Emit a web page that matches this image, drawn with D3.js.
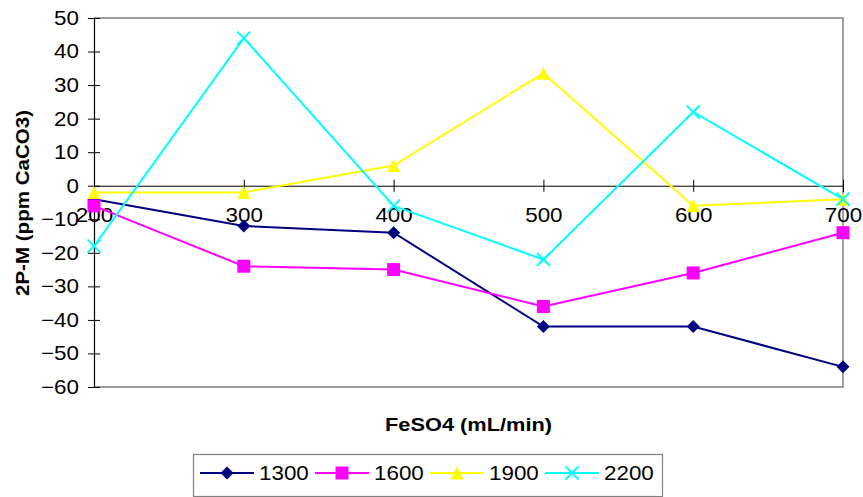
<!DOCTYPE html>
<html>
<head>
<meta charset="utf-8">
<script src="https://cdn.jsdelivr.net/npm/d3@7"></script>
<style>
  html, body { margin: 0; padding: 0; background: #fff; }
  svg { display: block; font-family: "Liberation Sans", Arial, sans-serif; }
</style>
</head>
<body>
<svg id="chart" width="863" height="497"></svg>
<script>
// FeSO4 flow rate (mL/min) on the x axis
const flows = [200, 300, 400, 500, 600, 700];
const seriesNames = ["1300", "1600", "1900", "2200"];
const values1300 = [-4, -12, -14, -42, -42, -54];
const values1600 = [-6, -24, -25, -36, -26, -14];
const values1900 = [-2, -2, 6, 33.5, -6, -4];
const values2200 = [-18, 44, -6, -22, 22, -4];
const yTicks = [50, 40, 30, 20, 10, 0, -10, -20, -30, -40, -50, -60];

const colors = ["#000080", "#ff00ff", "#ffff00", "#00ffff"];
const markers = ["diamond", "square", "triangle", "cross"];
const allValues = [values1300, values1600, values1900, values2200];

const svg = d3.select("#chart");
const plotLeft = 94, plotRight = 843, plotTop = 18, plotBottom = 387;
const labelFont = 20, stretch = 1.12;

const x = d3.scaleLinear().domain([200, 700]).range([plotLeft, plotRight]);
const y = d3.scaleLinear().domain([-60, 50]).range([plotBottom, plotTop]);

// plot frame (grey on top, right, bottom)
svg.append("path")
  .attr("d", `M${plotLeft},${plotTop}H${plotRight}V${plotBottom}H${plotLeft}`)
  .attr("fill", "none").attr("stroke", "#808080").attr("stroke-width", 1.5);

// y axis
const yAxis = d3.axisLeft(y).tickValues(yTicks).tickSize(6).tickFormat(d3.format("d"));
const gy = svg.append("g").attr("transform", `translate(${plotLeft},0)`).call(yAxis);
gy.select(".domain").attr("stroke", "#000").attr("stroke-width", 1.2);
gy.selectAll(".tick line").attr("x1", -6).attr("x2", 6).attr("stroke", "#000");
gy.selectAll(".tick text")
  .attr("x", -15 / stretch)
  .attr("transform", `scale(${stretch},1)`)
  .attr("font-size", labelFont).attr("fill", "#000")
  .attr("font-family", "Liberation Sans, Arial, sans-serif");

// x axis at y = 0
const xAxis = d3.axisBottom(x).tickValues(flows).tickSize(6).tickFormat(d3.format("d"));
const gx = svg.append("g").attr("transform", `translate(0,${y(0)})`).call(xAxis);
gx.select(".domain").attr("stroke", "#000").attr("stroke-width", 1);
gx.selectAll(".tick line").attr("y1", -6).attr("y2", 6).attr("stroke", "#000");
gx.selectAll(".tick text")
  .attr("y", 22)
  .attr("transform", `scale(${stretch},1)`)
  .attr("font-size", labelFont).attr("fill", "#000")
  .attr("font-family", "Liberation Sans, Arial, sans-serif");

function markerPath(type, s) {
  const h = s / 2;
  if (type === "diamond") return `M0,${-h}L${h},0L0,${h}L${-h},0Z`;
  if (type === "square") return `M${-h},${-h}H${h}V${h}H${-h}Z`;
  if (type === "triangle") return `M0,${-h}L${h},${h}H${-h}Z`;
  return `M${-h},${-h}L${h},${h}M${h},${-h}L${-h},${h}`;
}

function drawMarker(g, type, color, cx, cy) {
  const p = g.append("path").attr("transform", `translate(${cx},${cy})`)
    .attr("d", markerPath(type, 13));
  if (type === "cross") p.attr("fill", "none").attr("stroke", color).attr("stroke-width", 2);
  else p.attr("fill", color).attr("stroke", "none");
}

const line = d3.line().x((d, i) => x(flows[i])).y(d => y(d));
const plot = svg.append("g");
allValues.forEach((vals, si) => {
  plot.append("path").datum(vals).attr("d", line)
    .attr("fill", "none").attr("stroke", colors[si]).attr("stroke-width", 2);
});
allValues.forEach((vals, si) => {
  vals.forEach((v, i) => drawMarker(plot, markers[si], colors[si], x(flows[i]), y(v)));
});

// axis titles
svg.append("text").attr("transform", "translate(29,203) rotate(-90)")
  .attr("text-anchor", "middle").attr("font-weight", "bold").attr("font-size", 18)
  .attr("textLength", 186).attr("lengthAdjust", "spacingAndGlyphs")
  .text("2P-M (ppm CaCO3)");
svg.append("text").attr("x", 468.5).attr("y", 431)
  .attr("text-anchor", "middle").attr("font-weight", "bold").attr("font-size", 18)
  .attr("textLength", 167).attr("lengthAdjust", "spacingAndGlyphs")
  .text("FeSO4 (mL/min)");

// legend
const legend = svg.append("g");
legend.append("rect").attr("x", 193.5).attr("y", 454.5).attr("width", 469).attr("height", 42)
  .attr("fill", "#fff").attr("stroke", "#808080").attr("stroke-width", 1.2);
const legendX = [200, 315, 430, 545];
seriesNames.forEach((name, si) => {
  const lx = legendX[si], ly = 473;
  legend.append("line").attr("x1", lx).attr("x2", lx + 54).attr("y1", ly).attr("y2", ly)
    .attr("stroke", colors[si]).attr("stroke-width", 2);
  drawMarker(legend, markers[si], colors[si], lx + 27, ly);
  legend.append("text")
    .attr("transform", `translate(${lx + 59},${ly + 6.5}) scale(${stretch},1)`)
    .attr("font-size", labelFont).text(name);
});
</script>
</body>
</html>
